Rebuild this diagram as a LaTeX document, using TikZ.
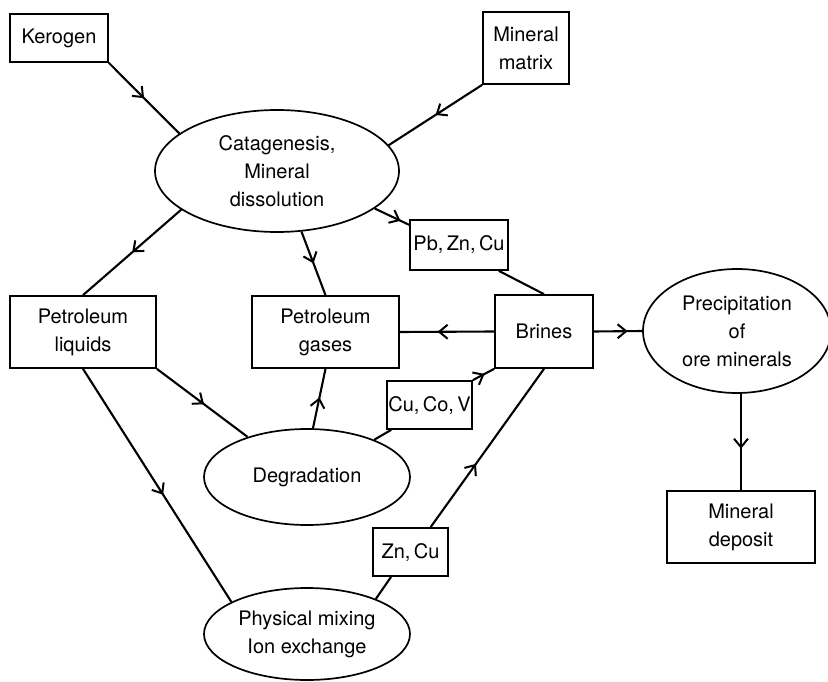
\documentclass[tikz,border=0pt]{standalone}
\usepackage{fontspec}
\setmainfont{TeX Gyre Heros}
\usetikzlibrary{shapes.geometric,arrows.meta,decorations.markings,calc}
\tikzset{
  txt/.style={font=\fontsize{20}{28}\selectfont, align=center, inner sep=0pt},
  box/.style={txt, draw, line width=1.7pt, rectangle},
  oval/.style={txt, draw, line width=1.7pt, ellipse},
  conn/.style={line width=2.1pt},
  midarrow/.style={postaction={decorate}, decoration={markings,
     mark=at position #1 with {\arrow{Straight Barb[length=8.5pt,width=14pt,line width=2pt]}}}},
}
\begin{document}
\begin{tikzpicture}[x=1pt,y=-1pt]
\useasboundingbox (0,0) rectangle (828,682);
% nodes
\node[box, minimum width=98pt, minimum height=48pt] (ker) at (59,38) {Kerogen};
\node[box, minimum width=86pt, minimum height=72pt] (mm) at (526,48) {Mineral\\matrix};
\node[oval, minimum width=244pt, minimum height=122pt] (cat) at (277,171) {Catagenesis,\\Mineral\\dissolution};
\node[box, minimum width=98pt, minimum height=50pt] (pb) at (459,245) {Pb,\,Zn,\,Cu};
\node[box, minimum width=98pt, minimum height=73pt] (br) at (544,331.5) {Brines};
\node[box, minimum width=147pt, minimum height=72pt] (pg) at (325.5,332) {Petroleum\\gases};
\node[box, minimum width=146pt, minimum height=72pt] (pl) at (83,332) {Petroleum\\liquids};
\node[oval, minimum width=188pt, minimum height=124pt] (prec) at (737,331) {Precipitation\\of\\ore minerals};
\node[box, minimum width=148pt, minimum height=72pt] (md) at (741,527) {Mineral\\deposit};
\node[oval, minimum width=206pt, minimum height=96pt] (deg) at (307,477) {Degradation};
\node[box, minimum width=85pt, minimum height=48pt] (ccv) at (429.5,405) {Cu,\,Co,\,V};
\node[oval, minimum width=206pt, minimum height=92pt] (phys) at (307,634) {Physical mixing\\Ion exchange};
\node[box, minimum width=75pt, minimum height=48pt] (zn) at (410.5,552) {Zn,\,Cu};
% connectors
\draw[conn, midarrow=0.5] (ker.south east) -- (cat.159);
\draw[conn, midarrow=0.5] (mm.south west) -- (cat.13);
\draw[conn, midarrow=0.5] (cat.202) -- (pl.north);
\draw[conn, midarrow=0.5] (cat.-68) -- (pg.north);
\draw[conn, midarrow=0.75] (cat.-21) -- (pb.158);
\draw[conn] (pb.-33) -- (br.north);
\draw[conn, midarrow=0.6] (br.west) -- (pg.east);
\draw[conn, midarrow=0.7] (br.east) -- (prec.west);
\draw[conn, midarrow=0.57] (prec.south -| md.north) -- (md.north);
\draw[conn, midarrow=0.52] (pl.south east) -- (deg.146);
\draw[conn, midarrow=0.54] (pl.south) -- (phys.157);
\draw[conn, midarrow=0.52] (deg.83) -- (pg.south);
\draw[conn] (deg.29) -- (ccv.213);
\draw[conn, midarrow=0.55] (ccv.north east) -- (br.south west);
\draw[conn] (phys.27) -- (zn.232);
\draw[conn, midarrow=0.4] (zn.51) -- (br.south);
\end{tikzpicture}
\end{document}
